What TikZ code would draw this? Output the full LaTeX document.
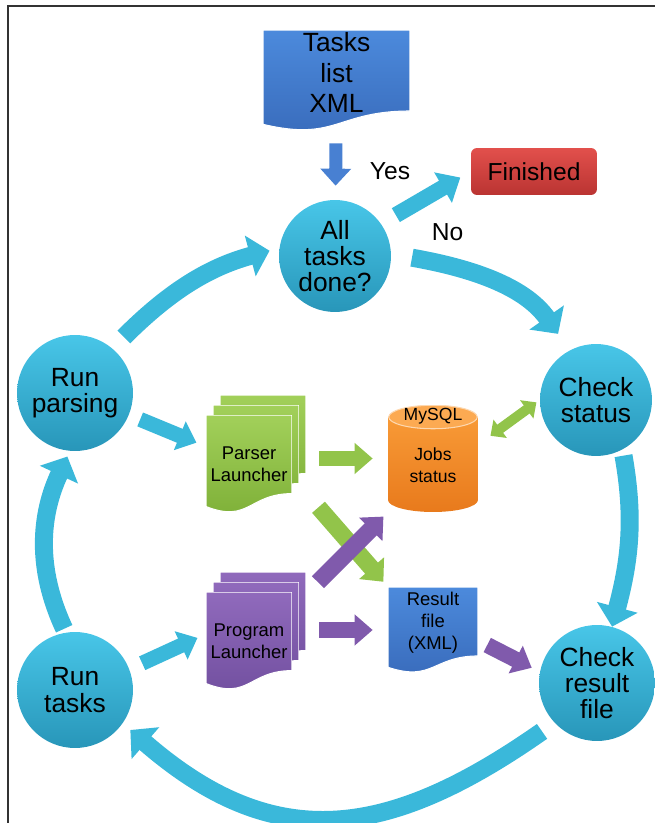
\documentclass[tikz,border=0pt]{standalone}
\usepackage{fontspec}
\setmainfont{Liberation Sans}
\usetikzlibrary{arrows.meta,calc}

\definecolor{framegray}{RGB}{50,50,50}
\definecolor{loopcyan}{RGB}{58,184,218}
\definecolor{circtop}{RGB}{72,198,232}
\definecolor{circbot}{RGB}{40,150,185}
\definecolor{docblue}{RGB}{76,138,220}
\definecolor{docbluedark}{RGB}{56,106,186}
\definecolor{arrowblue}{RGB}{72,128,210}
\definecolor{finred}{RGB}{226,80,76}
\definecolor{finreddark}{RGB}{186,52,50}
\definecolor{parsgreen}{RGB}{162,208,90}
\definecolor{parsgreendark}{RGB}{124,174,54}
\definecolor{arrowgreen}{RGB}{146,196,74}
\definecolor{progpurple}{RGB}{144,106,188}
\definecolor{progpurpledark}{RGB}{112,78,158}
\definecolor{arrowpurple}{RGB}{128,90,172}
\definecolor{dborange}{RGB}{250,158,58}
\definecolor{dborangedark}{RGB}{232,122,28}
\definecolor{dbtop}{RGB}{252,170,82}

\tikzset{
    stepcircle/.style={circle, minimum size=2.24cm, inner sep=0pt, align=center,
        top color=circtop, bottom color=circbot, font=\fontsize{15}{15}\selectfont},
    docshape/.style 2 args={minimum width=1.72cm, minimum height=1.96cm, inner sep=0pt, align=center,
        font=\fontsize{10.5}{12.5}\selectfont,
        path picture={
            \path[top color=#1, bottom color=#2, draw=white, line width=0.6pt]
                let \p1=(path picture bounding box.south west),
                    \p2=(path picture bounding box.north east) in
                (\x1,\y2) -- (\x2,\y2) -- (\x2,{\y1+0.198*(\y2-\y1)})
                .. controls ({(\x1+\x2)/2},{\y1+0.198*(\y2-\y1)})
                and ({(\x1+\x2)/2},{\y1-0.107*(\y2-\y1)}) .. (\x1,{\y1+0.066*(\y2-\y1)}) -- cycle;
        }},
    dbcylinder/.style={minimum width=1.8cm, minimum height=2.14cm, inner sep=0pt, align=center,
        font=\fontsize{10}{12.5}\selectfont,
        path picture={
            \path[top color=dborange, bottom color=dborangedark]
                let \p1=(path picture bounding box.south west),
                    \p2=(path picture bounding box.north east) in
                (\x1,{\y2-0.24cm}) -- (\x1,{\y1+0.24cm})
                arc[start angle=180, end angle=360, x radius={(\x2-\x1)/2}, y radius=0.24cm]
                -- (\x2,{\y2-0.24cm}) -- cycle;
            \path[fill=dbtop, draw=white!60!dborange, line width=0.6pt]
                let \p1=(path picture bounding box.south west),
                    \p2=(path picture bounding box.north east) in
                ({(\x1+\x2)/2},{\y2-0.24cm}) ellipse[x radius={(\x2-\x1)/2-0.4pt}, y radius=0.235cm];
        }},
    looparrow/.style={draw=loopcyan, line width=0.36cm, -{Triangle[width=0.82cm,length=0.4cm]}},
    blockarrow/.style={line width=0.32cm, -{Triangle[width=0.6cm,length=0.36cm]}}
}

\begin{document}
\begin{tikzpicture}[x=0.02cm, y=0.02cm]
        \useasboundingbox (0,0) rectangle (655,823);
        \draw[line width=1.1pt, framegray] (8,0) -- (8,817) -- (655,817);

        \node[docshape={docblue}{docbluedark}, minimum width=2.94cm, minimum height=2.02cm,
              font=\fontsize{15}{17.5}\selectfont, text depth=0.32cm] (tasks) at (336.5,742.5) {Tasks\\list\\XML};
        \node[rounded corners=0.12cm, minimum width=2.52cm, minimum height=0.94cm,
              top color=finred, bottom color=finreddark, font=\fontsize{14}{16}\selectfont] (finished) at (534,651.5) {Finished};

        \node[stepcircle] (alldone) at (335,567) {All\\tasks\\done?};
        \node[stepcircle, minimum size=2.32cm] (runparse) at (75,430) {Run\\parsing};
        \node[stepcircle, minimum size=2.32cm] (runtasks) at (75,133) {Run\\tasks};
        \node[stepcircle] (checkstat) at (596,423) {Check\\status};
        \node[stepcircle, minimum size=2.32cm] (checkres) at (597,140) {Check\\result\\file};

        \node[docshape={parsgreen}{parsgreendark}] (parser3) at (263,379) {};
        \node[docshape={parsgreen}{parsgreendark}] (parser2) at (256,369) {};
        \node[docshape={parsgreen}{parsgreendark}] (parser) at (249,359) {Parser\\Launcher};

        \node[docshape={progpurple}{progpurpledark}] (prog3) at (263,202) {};
        \node[docshape={progpurple}{progpurpledark}] (prog2) at (256,192) {};
        \node[docshape={progpurple}{progpurpledark}] (prog) at (249,182) {Program\\Launcher};

        \node[dbcylinder, text depth=0.54cm] (mysql) at (433,364.5) {MySQL\\[0.36cm]Jobs\\status};
        \node[docshape={docblue}{docbluedark}, minimum width=1.8cm, minimum height=1.72cm,
              text depth=0.35cm] (result) at (433,193) {Result\\file\\(XML)};

        \node[anchor=base, font=\fontsize{14}{16}\selectfont] (yeslbl) at (390,643) {Yes};
        \node[anchor=base, font=\fontsize{14}{16}\selectfont] (nolbl) at (447.5,582) {No};

        % main loop
        \draw[looparrow, shorten <=0.32cm, shorten >=0.2cm] (runparse.50) to[out=45,in=195] (alldone.172);
        \draw[looparrow, shorten <=0.42cm, shorten >=0.4cm] (alldone.2) to[out=-10,in=125] (checkstat.118);
        \draw[looparrow, shorten <=0.12cm] (checkstat.-62) to[out=-80,in=75] (checkres.75);
        \draw[looparrow, shorten <=0.3cm, shorten >=0.2cm] (checkres.223) to[out=215,in=-41,looseness=1.2] (runtasks.-35);
        \draw[looparrow, shorten <=0.08cm, shorten >=0.12cm] (runtasks.99) to[out=115,in=245] (runparse.265);

        \draw[blockarrow, draw=arrowblue, line width=0.26cm, -{Triangle[width=0.6cm,length=0.34cm]},
              shorten <=0.24cm, shorten >=0.28cm] (tasks) -- (alldone);
        \draw[blockarrow, draw=loopcyan, -{Triangle[width=0.68cm,length=0.4cm]},
              shorten <=0.34cm, shorten >=0.24cm] (alldone.35) -- (finished.west);

        \draw[blockarrow, draw=loopcyan, line width=0.3cm, shorten <=0.24cm, shorten >=0.2cm] (runparse.-22) -- (parser.158);
        \draw[blockarrow, draw=loopcyan, line width=0.3cm, shorten <=0.28cm, shorten >=0.18cm] (runtasks.21) -- (prog.171);

        \draw[blockarrow, draw=arrowgreen, shorten <=0.26cm, shorten >=0.3cm] (parser3.east |- mysql.west) -- (mysql.west);
        \draw[blockarrow, draw=arrowpurple, shorten <=0.26cm, shorten >=0.3cm] (prog3.east |- result.west) -- (result.west);
        \draw[blockarrow, draw=arrowgreen, line width=0.34cm, -{Triangle[width=0.64cm,length=0.36cm]},
              shorten <=0.37cm, shorten >=0.13cm] (parser3.south east) -- (result.north west);
        \draw[blockarrow, draw=arrowpurple, line width=0.34cm, -{Triangle[width=0.64cm,length=0.36cm]},
              shorten <=0.33cm, shorten >=0.12cm] (prog3.32) -- (mysql.south west);
        \draw[blockarrow, draw=arrowpurple, shorten <=0.2cm, shorten >=0.18cm] (result.-13) -- (checkres.169);
        \draw[draw=arrowgreen, line width=0.2cm, {Triangle[width=0.44cm,length=0.24cm]}-{Triangle[width=0.44cm,length=0.24cm]},
              shorten <=0.3cm, shorten >=0.08cm] (mysql.17) -- (checkstat.180);
\end{tikzpicture}
\end{document}
